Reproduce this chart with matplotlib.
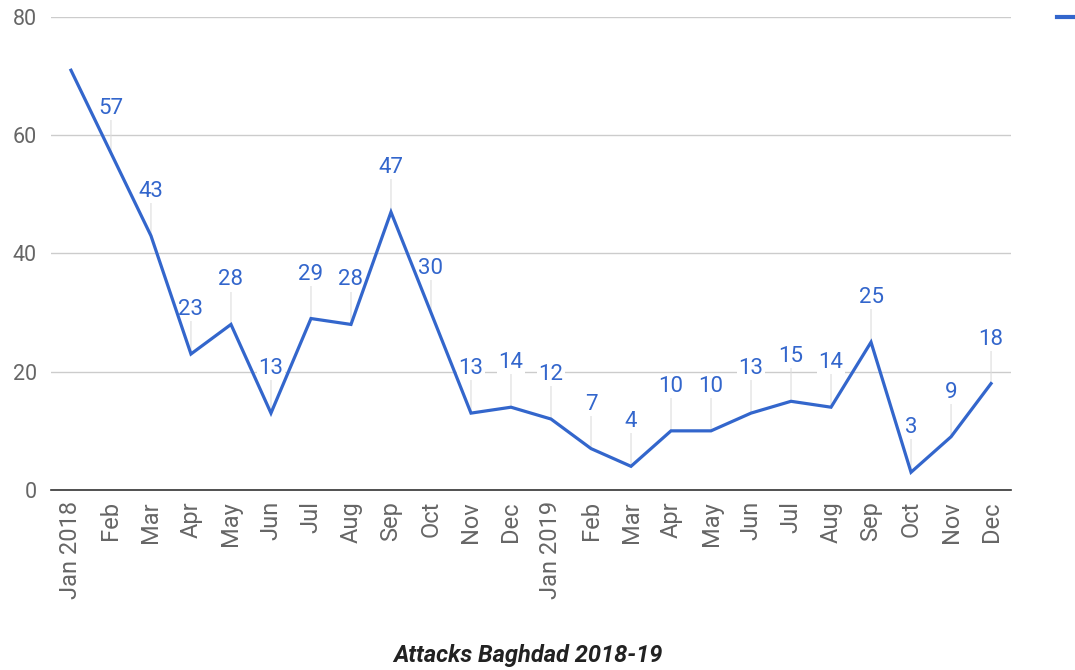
import matplotlib
matplotlib.use("Agg")
import matplotlib.pyplot as plt
from matplotlib.lines import Line2D

plt.rcParams['font.family'] = ['Roboto', 'DejaVu Sans']

# data
months = ['Jan 2018', 'Feb', 'Mar', 'Apr', 'May', 'Jun', 'Jul', 'Aug', 'Sep', 'Oct', 'Nov', 'Dec',
          'Jan 2019', 'Feb', 'Mar', 'Apr', 'May', 'Jun', 'Jul', 'Aug', 'Sep', 'Oct', 'Nov', 'Dec']
attacks = [71, 57, 43, 23, 28, 13, 29, 28, 47, 30, 13, 14,
           12, 7, 4, 10, 10, 13, 15, 14, 25, 3, 9, 18]
show_label = [False] + [True] * 23
y_ticks = [0, 20, 40, 60, 80]

blue = '#3366cc'
grey = '#666666'

fig = plt.figure(figsize=(10.75, 6.7), dpi=100)
ax = fig.add_axes([0.0474, 0.2687, 0.8931, 0.7059])

x = list(range(len(months)))
ax.plot(x, attacks, color=blue, lw=2.3, zorder=3, solid_joinstyle='miter')

# data labels with a thin stem (labels sit under the line, over the grid)
for i, v in enumerate(attacks):
    if not show_label[i]:
        continue
    ax.annotate('', xy=(i, v), xytext=(0, 28), textcoords='offset points',
                arrowprops=dict(arrowstyle='-', color='#dddddd', lw=0.8,
                                shrinkA=0, shrinkB=0), zorder=1.5)
    ax.annotate(str(v), xy=(i, v), xytext=(0, 32), textcoords='offset points',
                ha='center', va='center', fontsize=16, color=blue, zorder=2.5,
                bbox=dict(boxstyle='square,pad=0.05', fc='white', ec='none'))

ax.set_xlim(-0.5, len(months) - 0.5)
ax.set_ylim(0, 80)
ax.set_yticks(y_ticks)
ax.set_xticks(x)
ax.set_xticklabels(months, rotation=90, ha='center', va='top')
ax.tick_params(axis='both', length=0, labelcolor=grey)
ax.tick_params(axis='x', pad=8, labelsize=17)
ax.tick_params(axis='y', pad=10, labelsize=15.5)

ax.grid(axis='y', color='#cccccc', lw=1, zorder=1)
ax.set_axisbelow(True)
for s in ['top', 'right', 'left']:
    ax.spines[s].set_visible(False)
ax.spines['bottom'].set_color('#333333')
ax.spines['bottom'].set_linewidth(1.2)
ax.spines['bottom'].set_zorder(5)

# legend marker (cut off at the right edge)
fig.add_artist(Line2D([0.983, 1.0], [0.974, 0.974], transform=fig.transFigure,
                      color=blue, lw=3))

fig.text(0.491, 0.022, 'Attacks Baghdad 2018-19', ha='center', va='center',
         fontsize=17, fontweight='bold', fontstyle='italic', color='#222222')

fig.savefig('out.png', dpi=100)
